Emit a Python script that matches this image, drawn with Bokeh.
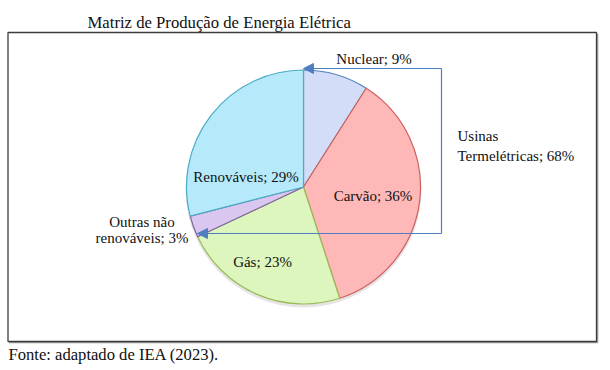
import numpy as np
from bokeh.plotting import figure
from bokeh.models import Range1d, Arrow, NormalHead, ColumnDataSource
from bokeh.core.properties import value
from bokeh.embed import file_html
from bokeh.resources import INLINE

# ---- data ----
title = "Matriz de Produção de Energia Elétrica"
source_note = "Fonte: adaptado de IEA (2023)."
categories = ["Nuclear", "Carvão", "Gás", "Outras não\nrenováveis", "Renováveis"]
shares = [9, 36, 23, 3, 29]
group_label = "Usinas\nTermelétricas"
group_members = ["Nuclear", "Carvão", "Gás"]

# ---- styles ----
fills = ["#d3ddf7", "#ffb8b8", "#dcf6be", "#d9c7ef", "#b6eafa"]
edges = ["#4f81bd", "#d06060", "#9bbb59", "#8064a2", "#4bacc6"]
arrow_color = "#4f7fc0"
FONT = value("Liberation Serif")

W, H = 606, 368
p = figure(width=W, height=H, x_range=Range1d(0, W), y_range=Range1d(0, H),
           output_backend="svg", toolbar_location=None,
           x_axis_location=None, y_axis_location=None, min_border=0)
p.outline_line_color = None
p.grid.visible = False
p.background_fill_color = "white"
p.border_fill_color = "white"


def Y(py):
    return H - py


# frame box
bx0, bx1, by0, by1 = 7.5, 596, 32, 341
p.line(x=[bx1 + 1.2, bx1 + 1.2], y=[Y(by0 + 1), Y(by1 + 1.2)], line_color="#9a9a9a", line_width=1.2)
p.line(x=[bx0 + 1, bx1 + 1.2], y=[Y(by1 + 1.2), Y(by1 + 1.2)], line_color="#9a9a9a", line_width=1.2)
p.quad(left=bx0, right=bx1, top=Y(by0), bottom=Y(by1), fill_color=None,
       line_color="#3c3c3c", line_width=1.3)

# pie
cx, cy, r = 303, Y(186.5), 117
frac = np.array(shares, dtype=float) / sum(shares)
cum = np.cumsum(frac)
start = np.pi / 2 - 2 * np.pi * (cum - frac)
end = np.pi / 2 - 2 * np.pi * cum

p.circle(x=[cx], y=[cy - 2.5], radius=r + 1, fill_color="#000000", fill_alpha=0.10, line_color=None)

src = ColumnDataSource(dict(cat=categories, share=shares, start=start, end=end,
                            fill=fills, edge=edges))
p.wedge(x=cx, y=cy, radius=r, start_angle="start", end_angle="end", direction="clock",
        fill_color="fill", line_color="edge", line_width=1.2, source=src)

# slice labels (page coords of label centres)
label_pos = {
    "Nuclear": (373.5, 58),
    "Carvão": (372.5, 195),
    "Gás": (262, 261),
    "Outras não\nrenováveis": (141.5, 229.5),
    "Renováveis": (245.5, 176),
}
lx = [label_pos[c][0] for c in categories]
ly = [Y(label_pos[c][1]) for c in categories]
ltxt = [f"{c}; {s}%" for c, s in zip(categories, shares)]
p.text(x=lx, y=ly, text=ltxt, text_font=FONT, text_font_size="15px", text_color="#111111",
       text_align="center", text_baseline="middle", text_line_height=1.05)

# bracket arrows
top_y, bot_y, rx = 68, 233, 441
p.line(x=[rx, rx], y=[Y(top_y), Y(bot_y)], line_color=arrow_color, line_width=1.2)
for yy, xe in [(top_y, 303), (bot_y, 197)]:
    p.add_layout(Arrow(end=NormalHead(size=10, fill_color=arrow_color, line_color=arrow_color),
                       x_start=rx, y_start=Y(yy), x_end=xe, y_end=Y(yy),
                       line_color=arrow_color, line_width=1.2))

group_share = sum(s for c, s in zip(categories, shares) if c in group_members)
p.text(x=[457], y=[Y(145.5)], text=[f"{group_label}; {group_share}%"], text_font=FONT,
       text_font_size="15px", text_color="#111111", text_align="left",
       text_baseline="middle", text_line_height=1.2)

# title and source
p.text(x=[87], y=[Y(21.5)], text=[title], text_font=FONT, text_font_size="16.7px",
       text_color="#111111", text_align="left", text_baseline="middle")
p.text(x=[8], y=[Y(354)], text=[source_note], text_font=FONT, text_font_size="16.6px",
       text_color="#111111", text_align="left", text_baseline="middle")

open("out.html", "w").write(file_html(p, INLINE))
